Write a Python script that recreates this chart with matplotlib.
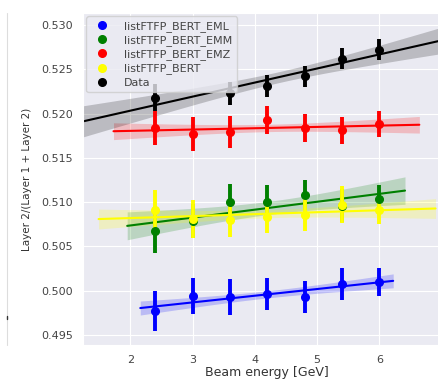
import numpy as np
import matplotlib
matplotlib.use('Agg')
import matplotlib.pyplot as plt
import seaborn as sns
from matplotlib.lines import Line2D

sns.set_style('darkgrid')

energy = [2.4, 3.0, 3.6, 4.2, 4.8, 5.4, 6.0]

eml = [0.4977, 0.4994, 0.4993, 0.4996, 0.4993, 0.5008, 0.5010]
eml_err = [0.0023, 0.0020, 0.0020, 0.0018, 0.0018, 0.0018, 0.0016]

emm = [0.5067, 0.5079, 0.5100, 0.5100, 0.5108, 0.5096, 0.5103]
emm_err = [0.0024, 0.0019, 0.0020, 0.0019, 0.0017, 0.0019, 0.0016]

emz = [0.5184, 0.5177, 0.5179, 0.5193, 0.5184, 0.5181, 0.5188]
emz_err = [0.0019, 0.0019, 0.0018, 0.0016, 0.0016, 0.0015, 0.0015]

bert = [0.5091, 0.5081, 0.5080, 0.5083, 0.5085, 0.5097, 0.5091]
bert_err = [0.0023, 0.0021, 0.0019, 0.0018, 0.0018, 0.0021, 0.0016]

data_x = [2.4, 3.6, 4.2, 4.8, 5.4, 6.0]
data = [0.5218, 0.5223, 0.5231, 0.5242, 0.5262, 0.5272]
data_err = [0.0015, 0.0013, 0.0012, 0.0012, 0.0012, 0.0012]

# (label, x, y, err, colour, x-range of the fit line)
series = [
    ('listFTFP_BERT_EML', energy, eml, eml_err, 'blue', (2.16, 6.22)),
    ('listFTFP_BERT_EMM', energy, emm, emm_err, 'green', (1.95, 6.41)),
    ('listFTFP_BERT_EMZ', energy, emz, emz_err, 'red', (1.73, 6.64)),
    ('listFTFP_BERT', energy, bert, bert_err, 'yellow', (1.49, 6.9)),
    ('Data', data_x, data, data_err, 'black', (1.22, 7.16)),
]

fig = plt.figure(figsize=(4.39, 3.79), dpi=100)
ax = fig.add_axes([0.189, 0.0897, 0.84, 0.876])

for name, x, y, yerr, col, span in series:
    x = np.array(x)
    y = np.array(y)
    p = np.polyfit(x, y, 1)
    xg = np.linspace(span[0], span[1], 100)
    yg = np.polyval(p, xg)
    n = len(x)
    resid = y - np.polyval(p, x)
    s = np.sqrt(np.sum(resid**2) / (n - 2))
    se = s * np.sqrt(1/n + (xg - x.mean())**2 / np.sum((x - x.mean())**2))
    ax.fill_between(xg, yg - 1.96*se, yg + 1.96*se, color=col, alpha=0.2, lw=0)
    ax.plot(xg, yg, color=col, lw=1.5)
    ax.errorbar(x, y, yerr, fmt='o', color=col, ms=5.5, elinewidth=2.8, capsize=0,
                label=name)

ax.set_xlim(1.24, 7.16)
ax.set_ylim(0.49387, 0.53135)
ax.set_xticks([2, 3, 4, 5, 6, 7])
ax.set_yticks([0.495, 0.500, 0.505, 0.510, 0.515, 0.520, 0.525, 0.530])
ax.set_yticklabels([f'{v:.3f}' for v in ax.get_yticks()])
ax.tick_params(labelsize=8, labelcolor='#444444')
ax.set_xlabel('Beam energy [GeV]', fontsize=9, labelpad=1, color='#333333')
ax.set_ylabel('Layer 2/(Layer 1 + Layer 2)', fontsize=7.5, labelpad=7, color='#333333')

handles = [Line2D([], [], ls='', marker='o', color=c, ms=5.5) for _, _, _, _, c, _ in series]
leg = ax.legend(handles, [s[0] for s in series], loc='upper left', fontsize=8,
                labelspacing=0.3, handletextpad=1.0, borderaxespad=0.3)
for t in leg.get_texts():
    t.set_color('#444444')

# edge of a neighbouring panel, cropped in the original
fig.add_artist(Line2D([0.016, 0.016], [0.09, 0.966], color='#dddddd', lw=0.8))
fig.add_artist(Line2D([0.016, 0.016], [0.158, 0.166], color='#333333', lw=1))

fig.savefig('out.png', dpi=100)
